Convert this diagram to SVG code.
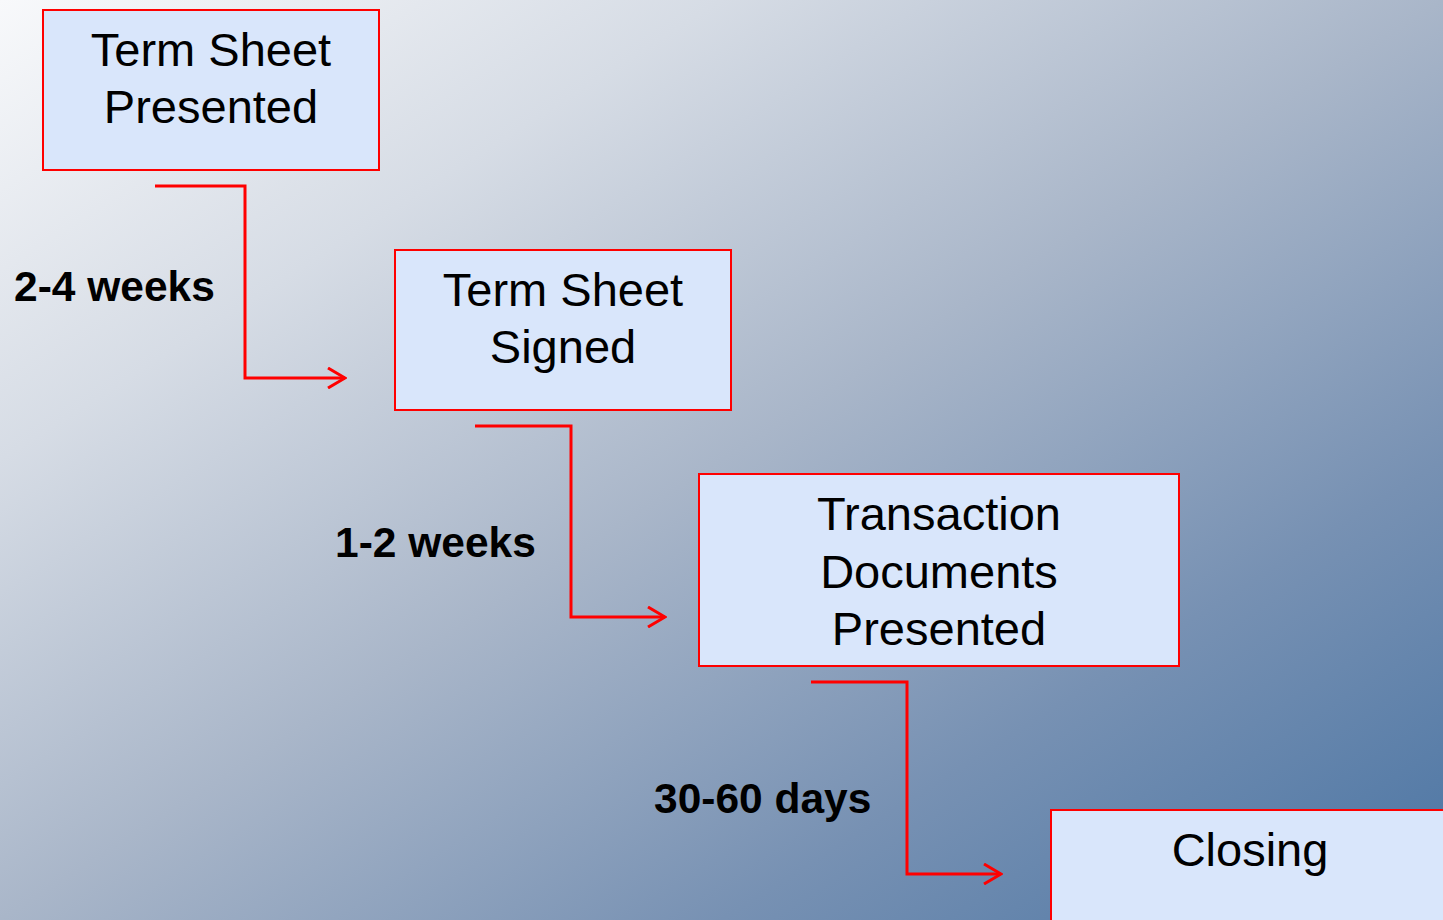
<svg xmlns="http://www.w3.org/2000/svg" width="1443" height="920" viewBox="0 0 1443 920">
  <defs>
    <linearGradient id="bg" x1="0" y1="0" x2="1" y2="1">
      <stop offset="0" stop-color="#f8f9fb"/>
      <stop offset="0.25" stop-color="#d6dce5"/>
      <stop offset="0.5" stop-color="#a9b6c9"/>
      <stop offset="0.75" stop-color="#7791b3"/>
      <stop offset="1" stop-color="#4a74a3"/>
    </linearGradient>
    <marker id="arrow" viewBox="0 0 20 22" refX="18" refY="11" markerWidth="20" markerHeight="22" markerUnits="userSpaceOnUse" orient="auto">
      <path d="M1,1 L18,11 L1,21" fill="none" stroke="#ff0000" stroke-width="3"/>
    </marker>
    <style>
      .box { fill: #d9e6fb; stroke: #ff0000; stroke-width: 2; }
      .node-text { font-family: "Liberation Sans", Arial, sans-serif; font-size: 47px; fill: #000; text-anchor: middle; }
      .label { font-family: "Liberation Sans", Arial, sans-serif; font-size: 42.5px; font-weight: bold; fill: #000; }
      .conn { fill: none; stroke: #ff0000; stroke-width: 3; marker-end: url(#arrow); }
    </style>
  </defs>

  <rect x="0" y="0" width="1443" height="920" fill="url(#bg)"/>

  <g id="connectors">
    <path class="conn" d="M155,186 H245 V378 H345"/>
    <path class="conn" d="M475,426 H571 V617 H665"/>
    <path class="conn" d="M811,682 H907 V874 H1001"/>
  </g>

  <g id="term-sheet-presented">
    <rect class="box" x="43" y="10" width="336" height="160"/>
    <text class="node-text" x="211" y="66">Term Sheet</text>
    <text class="node-text" x="211" y="123">Presented</text>
  </g>

  <g id="term-sheet-signed">
    <rect class="box" x="395" y="250" width="336" height="160"/>
    <text class="node-text" x="563" y="306">Term Sheet</text>
    <text class="node-text" x="563" y="363">Signed</text>
  </g>

  <g id="transaction-documents-presented">
    <rect class="box" x="699" y="474" width="480" height="192"/>
    <text class="node-text" x="939" y="530">Transaction</text>
    <text class="node-text" x="939" y="588">Documents</text>
    <text class="node-text" x="939" y="645">Presented</text>
  </g>

  <g id="closing">
    <rect class="box" x="1051" y="810" width="400" height="120"/>
    <text class="node-text" x="1250" y="866">Closing</text>
  </g>

  <g id="durations">
    <text class="label" x="14" y="301">2-4 weeks</text>
    <text class="label" x="335" y="557">1-2 weeks</text>
    <text class="label" x="654" y="813">30-60 days</text>
  </g>
</svg>
